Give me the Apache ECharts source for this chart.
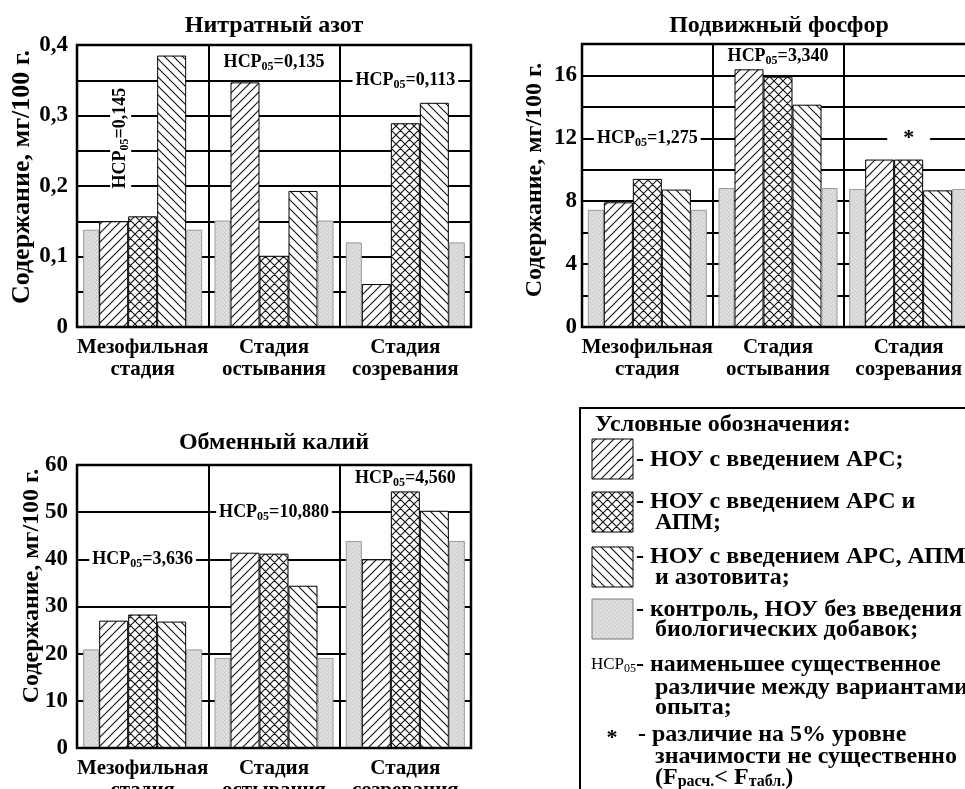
<!DOCTYPE html>
<html><head><meta charset="utf-8">
<script src="https://cdn.jsdelivr.net/npm/echarts@6/dist/echarts.min.js"></script>
<style>html,body{margin:0;padding:0;background:#fff}#c{width:965px;height:789px}</style>
</head><body><div id="c"></div>
<script>
// ---------- data ----------
const categories = ['Мезофильная\nстадия', 'Стадия\nостывания', 'Стадия\nсозревания'];

const nitrateControl  = [0.138, 0.151, 0.120];
const nitrateAPC      = [0.150, 0.347, 0.061];
const nitrateAPCAPM   = [0.157, 0.101, 0.289];
const nitrateAPCAPMAz = [0.385, 0.193, 0.318];
const nitrateHCP      = ['0,145', '0,135', '0,113'];
const nitrateHCPAt    = [0.268, 0.375, 0.35];
const nitrateTickLabels = ['0', '0,1', '0,2', '0,3', '0,4'];

const phosControl  = [7.45, 8.84, 8.78];
const phosAPC      = [7.93, 16.39, 10.65];
const phosAPCAPM   = [9.42, 15.92, 10.65];
const phosAPCAPMAz = [8.74, 14.14, 8.69];
const phosHCP      = ['1,275', '3,340', '*'];
const phosHCPAt    = [12, 17.2, 12];
const phosTickLabels = ['0', '4', '8', '12', '16'];

const potControl  = [20.9, 19.1, 43.9];
const potAPC      = [27.0, 41.4, 40.0];
const potAPCAPM   = [28.3, 41.2, 54.4];
const potAPCAPMAz = [26.8, 34.4, 50.3];
const potHCP      = ['3,636', '10,880', '4,560'];
const potHCPAt    = [40, 50, 57.2];
const potTickLabels = ['0', '10', '20', '30', '40', '50', '60'];

const titles = ['Нитратный азот', 'Подвижный фосфор', 'Обменный калий'];
const yName = 'Содержание, мг/100 г.';

const legendTitle = 'Условные обозначения:';
const legendLines = [
  ['- НОУ с введением АРС;'],
  ['- НОУ с введением АРС и', 'АПМ;'],
  ['- НОУ с введением АРС, АПМ', 'и азотовита;'],
  ['- контроль, НОУ без введения', 'биологических добавок;']
];
const legendHCP = ['- наименьшее существенное', 'различие между вариантами', 'опыта;'];
const legendStar = ['- различие на 5% уровне', 'значимости не существенно'];

// ---------- patterns ----------
function hatch(fwd, back, s) {
  const c = document.createElement('canvas');
  c.width = c.height = s;
  const g = c.getContext('2d');
  g.fillStyle = '#fff'; g.fillRect(0, 0, s, s);
  g.strokeStyle = '#111'; g.lineWidth = 1.1;
  g.beginPath();
  if (fwd) { g.moveTo(0, s); g.lineTo(s, 0); g.moveTo(-2, 2); g.lineTo(2, -2); g.moveTo(s - 2, s + 2); g.lineTo(s + 2, s - 2); }
  if (back) { g.moveTo(0, 0); g.lineTo(s, s); g.moveTo(s - 2, -2); g.lineTo(s + 2, 2); g.moveTo(-2, s - 2); g.lineTo(2, s + 2); }
  g.stroke();
  return c;
}
function stipple() {
  const c = document.createElement('canvas');
  c.width = c.height = 4;
  const g = c.getContext('2d');
  g.fillStyle = '#dadada'; g.fillRect(0, 0, 4, 4);
  g.fillStyle = '#c6c6c6'; g.fillRect(0, 0, 1, 1); g.fillRect(2, 2, 1, 1);
  g.fillStyle = '#e6e6e6'; g.fillRect(2, 0, 1, 1); g.fillRect(0, 2, 1, 1);
  return c;
}
const patFwd = { image: hatch(true, false, 9), repeat: 'repeat' };
const patCross = { image: hatch(true, true, 9), repeat: 'repeat' };
const patBack = { image: hatch(false, true, 9), repeat: 'repeat' };
const patGray = { image: stipple(), repeat: 'repeat' };

const FONT = '"Liberation Serif", "Times New Roman", serif';

// ---------- layout ----------
const grids = [
  { left: 77, top: 45, width: 394, height: 282 },
  { left: 582, top: 44, width: 392, height: 283 },
  { left: 77, top: 465, width: 394, height: 283 }
];

function xAxis(gi) {
  return {
    type: 'category', gridIndex: gi, data: categories,
    axisTick: { show: false },
    axisLine: { show: true, lineStyle: { color: '#000', width: 2 } },
    axisLabel: { interval: 0, color: '#000', fontFamily: FONT, fontWeight: 'bold', fontSize: 21, lineHeight: 22, margin: 10 },
    splitLine: { show: true, interval: 0, lineStyle: { color: '#000', width: 2 } }
  };
}
function yAxis(gi, max, interval, fmt, margin) {
  return {
    type: 'value', gridIndex: gi, min: 0, max: max, interval: interval,
    axisTick: { show: false },
    axisLine: { show: true, lineStyle: { color: '#000', width: 2 } },
    axisLabel: { color: '#000', fontFamily: FONT, fontWeight: 'bold', fontSize: 23, margin: margin, formatter: fmt },
    splitLine: { show: true, lineStyle: { color: '#000', width: 2 } }
  };
}

function barSeries(gi, ctrl, a, b, c) {
  const base = { type: 'bar', xAxisIndex: gi, yAxisIndex: gi, barGap: '0%', silent: true };
  const gray = { color: patGray, borderColor: '#9a9a9a', borderWidth: 1 };
  return [
    Object.assign({}, base, { data: ctrl, barWidth: 16, itemStyle: gray }),
    Object.assign({}, base, { data: a, barWidth: 29, itemStyle: { color: patFwd, borderColor: '#000', borderWidth: 1 } }),
    Object.assign({}, base, { data: b, barWidth: 29, itemStyle: { color: patCross, borderColor: '#000', borderWidth: 1 } }),
    Object.assign({}, base, { data: c, barWidth: 29, itemStyle: { color: patBack, borderColor: '#000', borderWidth: 1 } }),
    Object.assign({}, base, { data: ctrl, barWidth: 16, itemStyle: gray })
  ];
}

const hcpRich = {
  n: { fontFamily: FONT, fontWeight: 'bold', fontSize: 18, color: '#000', lineHeight: 21 },
  s: { fontFamily: FONT, fontWeight: 'bold', fontSize: 12, color: '#000', lineHeight: 13, verticalAlign: 'bottom', padding: [8, 0, 0, 0] },
  st: { fontFamily: FONT, fontWeight: 'bold', fontSize: 22, color: '#000', lineHeight: 21 }
};
function hcpSeries(gi, vals, texts, special) {
  return {
    type: 'scatter', xAxisIndex: gi, yAxisIndex: gi, symbolSize: 0, silent: true, z: 10,
    itemStyle: { opacity: 1 },
    data: vals.map((v, i) => {
      const item = { value: [i, v] };
      if (special && special[i]) item.label = special[i];
      return item;
    }),
    label: {
      show: true, position: 'inside', backgroundColor: '#fff', padding: [0, 3], opacity: 1,
      formatter: p => texts[p.dataIndex] === '*' ? '{st|*}' : '{n|НСР}{s|05}{n|=' + texts[p.dataIndex] + '}',
      rich: hcpRich
    }
  };
}

const option = {
  animation: false,
  backgroundColor: '#fff',
  grid: grids.map(g => Object.assign({ show: false, containLabel: false, outerBoundsMode: 'none' }, g)),
  xAxis: [xAxis(0), xAxis(1), xAxis(2)],
  yAxis: [
    yAxis(0, 0.4, 0.05, v => { const k = Math.round(v * 100); return k % 10 ? '' : nitrateTickLabels[k / 10]; }, 9),
    yAxis(1, 18, 2, v => v % 4 ? '' : phosTickLabels[v / 4], 5),
    yAxis(2, 60, 10, v => potTickLabels[v / 10], 9)
  ],
  series: [].concat(
    barSeries(0, nitrateControl, nitrateAPC, nitrateAPCAPM, nitrateAPCAPMAz),
    barSeries(1, phosControl, phosAPC, phosAPCAPM, phosAPCAPMAz),
    barSeries(2, potControl, potAPC, potAPCAPM, potAPCAPMAz),
    [
      hcpSeries(0, nitrateHCPAt, nitrateHCP, [{ rotate: 90, offset: [0, -22] }]),
      hcpSeries(1, phosHCPAt, phosHCP, [null, null, { padding: [0, 16] }]),
      hcpSeries(2, potHCPAt, potHCP)
    ]
  ),
  graphic: []
};

// grid frames
grids.forEach(g => {
  option.graphic.push({
    type: 'rect', silent: true, z: 50,
    shape: { x: g.left, y: g.top, width: g.width, height: g.height },
    style: { fill: 'none', stroke: '#000', lineWidth: 2.5 }
  });
});
// titles
[[274, 26], [779, 26], [274, 443]].forEach((p, i) => {
  option.graphic.push({
    type: 'text', x: p[0], y: p[1], silent: true,
    style: { text: titles[i], fill: '#000', font: 'bold 24px ' + FONT, textAlign: 'center', textVerticalAlign: 'middle' }
  });
});
// y axis names
[[22, 177, 26], [535, 180, 24], [32, 586, 24]].forEach(p => {
  option.graphic.push({
    type: 'text', x: p[0], y: p[1], rotation: Math.PI / 2, silent: true,
    style: { text: yName, fill: '#000', font: 'bold ' + p[2] + 'px ' + FONT, textAlign: 'center', textVerticalAlign: 'middle' }
  });
});

// legend
const LF = 'bold 24px ' + FONT;
option.graphic.push({
  type: 'rect', silent: true, z: 1,
  shape: { x: 580, y: 408, width: 420, height: 420 },
  style: { fill: '#fff', stroke: '#000', lineWidth: 2 }
});
option.graphic.push({ type: 'text', x: 595, y: 425, silent: true, z: 2, style: { text: legendTitle, fill: '#000', font: LF, textVerticalAlign: 'middle' } });
const swatchY = [439, 492, 547, 599];
const swatchFill = [patFwd, patCross, patBack, patGray];
const lineYs = [[460], [502, 523], [557, 578], [610, 630]];
legendLines.forEach((lines, i) => {
  option.graphic.push({
    type: 'rect', silent: true, z: 2,
    shape: { x: 592, y: swatchY[i], width: 41, height: 40 },
    style: { fill: swatchFill[i], stroke: i === 3 ? '#777' : '#000', lineWidth: 1 }
  });
  lines.forEach((t, j) => {
    option.graphic.push({ type: 'text', x: j === 0 ? 636 : 655, y: lineYs[i][j], silent: true, z: 2,
      style: { text: t, fill: '#000', font: LF, textVerticalAlign: 'middle' } });
  });
});
option.graphic.push({ type: 'text', x: 591, y: 665, silent: true, z: 2,
  style: { rich: { a: { font: '17px ' + FONT, fill: '#000' }, b: { font: '12px ' + FONT, fill: '#000', padding: [8, 0, 0, 0] } },
    text: '{a|НСР}{b|05}', textVerticalAlign: 'middle' } });
[665, 688, 708].forEach((y, j) => {
  option.graphic.push({ type: 'text', x: j === 0 ? 636 : 655, y: y, silent: true, z: 2,
    style: { text: legendHCP[j], fill: '#000', font: LF, textVerticalAlign: 'middle' } });
});
option.graphic.push({ type: 'text', x: 612, y: 738, silent: true, z: 2,
  style: { text: '*', fill: '#000', font: 'bold 22px ' + FONT, textAlign: 'center', textVerticalAlign: 'middle' } });
[735, 757].forEach((y, j) => {
  option.graphic.push({ type: 'text', x: j === 0 ? 638 : 655, y: y, silent: true, z: 2,
    style: { text: legendStar[j], fill: '#000', font: LF, textVerticalAlign: 'middle' } });
});
option.graphic.push({ type: 'text', x: 655, y: 778, silent: true, z: 2,
  style: { rich: { a: { font: LF, fill: '#000' }, b: { font: 'bold 16px ' + FONT, fill: '#000', padding: [8, 0, 0, 0] } },
    text: '{a|(F}{b|расч.}{a|< F}{b|табл.}{a|)}', textVerticalAlign: 'middle' } });

const chart = echarts.init(document.getElementById('c'));
chart.setOption(option);
</script>
</body></html>
